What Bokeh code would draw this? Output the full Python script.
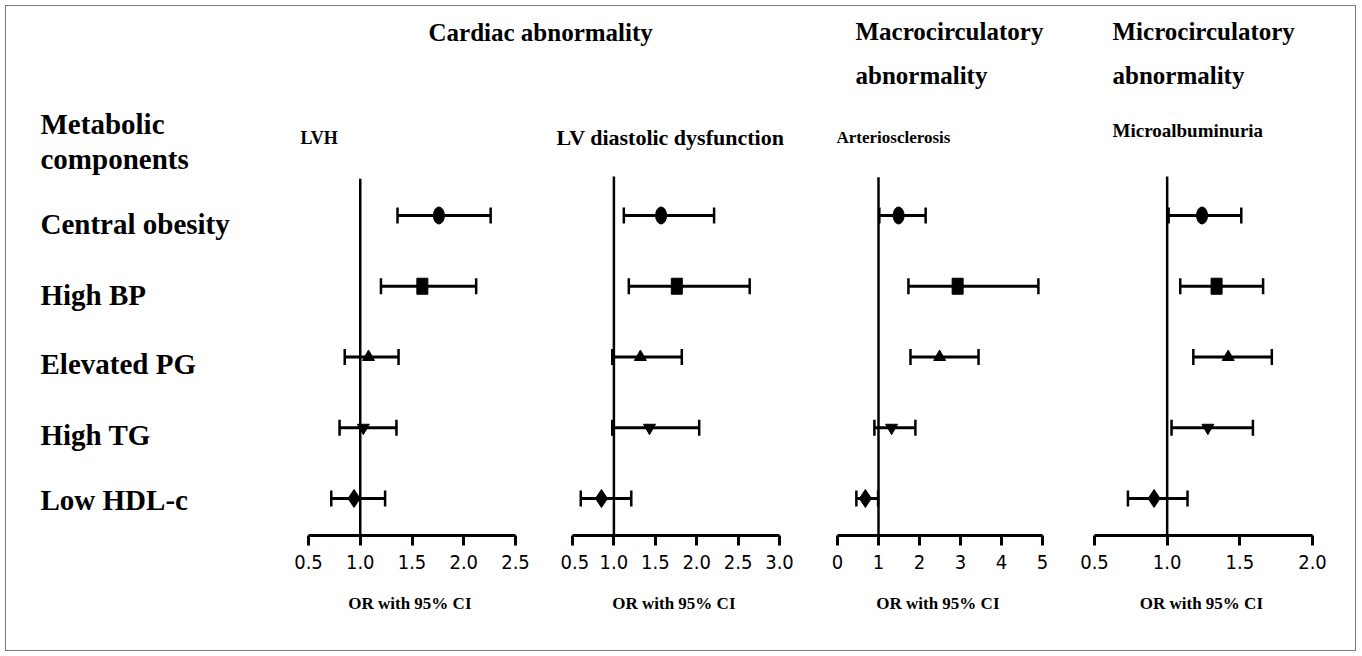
from bokeh.plotting import figure
from bokeh.layouts import row, column
from bokeh.models import Range1d, FixedTicker, ColumnDataSource
from bokeh.core.properties import value
from bokeh.embed import file_html
from bokeh.resources import INLINE

# ---------------- data ----------------
components = ["Central obesity", "High BP", "Elevated PG", "High TG", "Low HDL-c"]
row_pos = [5, 4, 3, 2, 1]

panel_names = ["LVH", "LV diastolic dysfunction", "Arteriosclerosis", "Microalbuminuria"]

lvh_or = [1.76, 1.60, 1.08, 1.03, 0.94]
lvh_lo = [1.36, 1.20, 0.85, 0.80, 0.72]
lvh_hi = [2.26, 2.12, 1.37, 1.35, 1.24]

lvdd_or = [1.57, 1.76, 1.32, 1.43, 0.85]
lvdd_lo = [1.12, 1.18, 0.98, 0.98, 0.60]
lvdd_hi = [2.21, 2.64, 1.82, 2.03, 1.21]

art_or = [1.49, 2.93, 2.49, 1.32, 0.68]
art_lo = [1.02, 1.73, 1.78, 0.90, 0.46]
art_hi = [2.15, 4.90, 3.44, 1.90, 0.99]

mau_or = [1.24, 1.34, 1.42, 1.28, 0.91]
mau_lo = [1.01, 1.09, 1.18, 1.03, 0.73]
mau_hi = [1.51, 1.66, 1.72, 1.59, 1.14]

lvh_ticks = [0.5, 1.0, 1.5, 2.0, 2.5]
lvh_tick_labels = ["0.5", "1.0", "1.5", "2.0", "2.5"]
lvdd_ticks = [0.5, 1.0, 1.5, 2.0, 2.5, 3.0]
lvdd_tick_labels = ["0.5", "1.0", "1.5", "2.0", "2.5", "3.0"]
art_ticks = [0, 1, 2, 3, 4, 5]
art_tick_labels = ["0", "1", "2", "3", "4", "5"]
mau_ticks = [0.5, 1.0, 1.5, 2.0]
mau_tick_labels = ["0.5", "1.0", "1.5", "2.0"]

x_axis_title = "OR with  95% CI"
ref_value = 1.0

# ---------------- styles / layout ----------------
SERIF = "'Liberation Serif', 'Times New Roman', serif"
NARROW = "'Liberation Sans Narrow', 'Arial Narrow', 'DejaVu Sans Condensed', sans-serif"
W_TOTAL = 1349
HEAD_H = 170
PANEL_H = 474
BOTTOM = 115
Y_RANGE = (0.477, 5.551)

yr = Range1d(*Y_RANGE)


def style_fig(p):
    p.outline_line_color = None
    p.xgrid.visible = False
    p.ygrid.visible = False
    p.background_fill_color = "white"
    p.border_fill_color = "white"


# header figure in pixel-like coordinates
head = figure(width=W_TOTAL, height=HEAD_H, x_range=Range1d(0, W_TOTAL),
              y_range=Range1d(HEAD_H, 0), output_backend="svg",
              toolbar_location=None, min_border=0,
              x_axis_location=None, y_axis_location=None)
style_fig(head)

head_texts = [
    ("Cardiac  abnormality", 422, 26, "25px"),
    ("Macrocirculatory", 849, 25, "25px"),
    ("abnormality", 849, 69, "25px"),
    ("Microcirculatory", 1106, 25, "25px"),
    ("abnormality", 1106, 69, "25px"),
    ("Metabolic", 34, 117, "29px"),
    ("components", 34, 152, "29px"),
    ("LVH", 294, 131, "18px"),
    ("LV diastolic dysfunction", 550, 131, "22px"),
    ("Arteriosclerosis", 830, 131, "17px"),
    ("Microalbuminuria", 1106, 124, "19px"),
]
for t, x, y, fs in head_texts:
    head.text(x=[x], y=[y], text=[t], text_font=value(SERIF), text_font_style="bold",
              text_font_size=fs, text_align="left", text_baseline="middle", text_color="black")

# left label figure
left = figure(width=284, height=PANEL_H, x_range=Range1d(0, 284), y_range=yr,
              output_backend="svg", toolbar_location=None,
              min_border_left=0, min_border_right=0, min_border_top=0,
              min_border_bottom=BOTTOM, x_axis_location=None, y_axis_location=None)
style_fig(left)
label_src = ColumnDataSource(dict(x=[34] * len(components), y=row_pos, text=components,
                                  dy=[9, 9, 7, 7, 2]))
left.text(x="x", y="y", text="text", y_offset="dy", source=label_src,
          text_font=value(SERIF), text_font_style="bold", text_font_size="29px",
          text_align="left", text_baseline="middle", text_color="black")

marker_kinds = ["oval", "rect", "triangle", "inverted_triangle", "diamond"]


def panel(ticks, tick_labels, o, lo, hi, width, bl, br, top):
    p = figure(width=width, height=PANEL_H, x_range=Range1d(ticks[0], ticks[-1]),
               y_range=yr, output_backend="svg", toolbar_location=None,
               min_border_left=bl, min_border_right=br, min_border_top=0,
               min_border_bottom=BOTTOM, y_axis_location=None)
    style_fig(p)
    # reference line at OR = 1
    p.segment(x0=[ref_value], y0=[Y_RANGE[0]], x1=[ref_value], y1=[top],
              line_color="black", line_width=2.5)
    # CI lines
    p.segment(x0=lo, y0=row_pos, x1=hi, y1=row_pos, line_color="black", line_width=3)
    # caps
    for xs in (lo, hi):
        p.rect(x=xs, y=row_pos, width=2.5, height=16, width_units="screen",
               height_units="screen", fill_color="black", line_color=None)
    # point estimates
    for i, kind in enumerate(marker_kinds):
        xi, yi = [o[i]], [row_pos[i]]
        if kind == "oval":
            p.ellipse(x=xi, y=yi, width=11, height=17, width_units="screen",
                      height_units="screen", fill_color="black", line_color="black")
        elif kind == "rect":
            p.rect(x=xi, y=yi, width=11, height=16, width_units="screen",
                   height_units="screen", fill_color="black", line_color="black")
        elif kind == "diamond":
            p.scatter(x=xi, y=yi, marker="diamond", size=18, fill_color="black",
                      line_color="black")
        else:
            p.scatter(x=xi, y=yi, marker=kind, size=12, fill_color="black",
                      line_color="black")
    ax = p.xaxis[0]
    ax.ticker = FixedTicker(ticks=ticks, minor_ticks=[])
    ax.major_label_overrides = {float(t): l for t, l in zip(ticks, tick_labels)}
    ax.bounds = (ticks[0], ticks[-1])
    ax.axis_line_width = 3
    ax.axis_line_color = "black"
    ax.major_tick_line_width = 3
    ax.major_tick_line_color = "black"
    ax.major_tick_in = 0
    ax.major_tick_out = 10
    ax.minor_tick_line_color = None
    ax.major_label_text_font = NARROW
    ax.major_label_text_font_size = "20px"
    ax.major_label_text_color = "black"
    ax.major_label_standoff = 9
    ax.axis_label = x_axis_title
    ax.axis_label_text_font = SERIF
    ax.axis_label_text_font_style = "bold"
    ax.axis_label_text_font_size = "17px"
    ax.axis_label_text_color = "black"
    ax.axis_label_standoff = 22
    return p


p1 = panel(lvh_ticks, lvh_tick_labels, lvh_or, lvh_lo, lvh_hi, 270, 18, 45, 5.52)
p2 = panel(lvdd_ticks, lvdd_tick_labels, lvdd_or, lvdd_lo, lvdd_hi, 260, 12, 41, 5.64)
p3 = panel(art_ticks, art_tick_labels, art_or, art_lo, art_hi, 250, 17, 28, 5.54)
p4 = panel(mau_ticks, mau_tick_labels, mau_or, mau_lo, mau_hi, 285, 24, 43, 5.61)

layout = column(head, row(left, p1, p2, p3, p4, spacing=0), spacing=0,
                margin=(5, 0, 0, 5),
                styles={"border": "1px solid #777"})

open("out.html", "w").write(file_html(layout, INLINE))
